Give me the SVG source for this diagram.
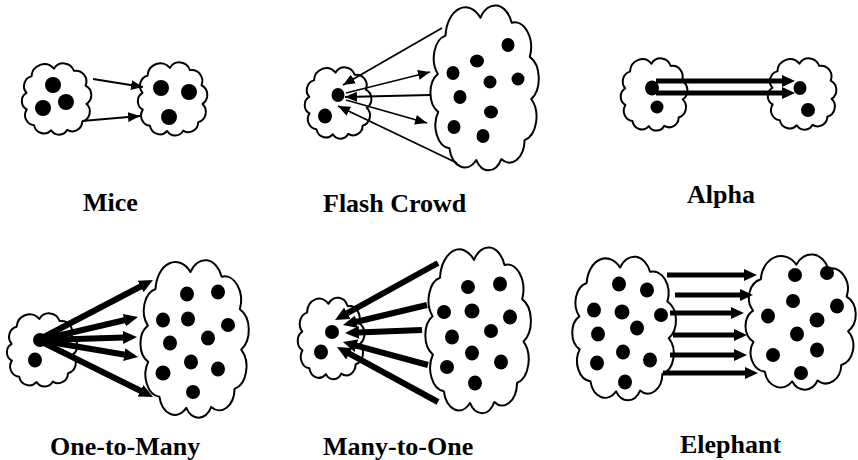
<svg xmlns="http://www.w3.org/2000/svg" xmlns:xlink="http://www.w3.org/1999/xlink" width="858" height="460" viewBox="0 0 858 460">
  <style>
    .cloud { fill: #fff; stroke: #000; stroke-width: 2; stroke-linejoin: round; }
    .dot { fill: #000; }
    .thin { stroke: #000; stroke-width: 1.8; fill: none; marker-end: url(#headThin); }
    .thick { stroke: #000; stroke-width: 6; fill: none; marker-end: url(#headThick); }
    .mid { stroke: #000; stroke-width: 5; fill: none; marker-end: url(#headMid); }
    .label { font-family: "Liberation Serif", "Times New Roman", serif; font-weight: bold; font-size: 26px; fill: #000; }
  </style>
  <defs>
    <!-- unit cloud in a 100x100 box (boxy outline with scalloped rim), scaled per node -->
    <path id="cloudShape" class="cloud" vector-effect="non-scaling-stroke" d="M46.5,10.01 A15,15 0 0 1 73.24,12.81 A14,14 0 0 1 88.73,31.94 A13.5,13.5 0 0 1 89.96,55.62 A13.5,13.5 0 0 1 84.26,78.75 A13,13 0 0 1 64.33,89.37 A12.5,12.5 0 0 1 42.96,89.93 A13.5,13.5 0 0 1 20,83.32 A13,13 0 0 1 10.44,62.85 A12,12 0 0 1 10.13,41.53 A13,13 0 0 1 16.68,20 A17,17 0 0 1 46.5,10.01 Z"/>
    <marker id="headThin" markerUnits="userSpaceOnUse" viewBox="0 0 12 10" markerWidth="12" markerHeight="10" refX="12" refY="5" orient="auto">
      <path d="M0,0 L12,5 L0,10 Z" fill="#000"/>
    </marker>
    <marker id="headThick" markerUnits="userSpaceOnUse" viewBox="0 0 14 14" markerWidth="14" markerHeight="14" refX="1" refY="7" orient="auto">
      <path d="M0,0.5 L14,7 L0,13.5 Z" fill="#000"/>
    </marker>
    <marker id="headMid" markerUnits="userSpaceOnUse" viewBox="0 0 13 13" markerWidth="13" markerHeight="13" refX="1" refY="6.5" orient="auto">
      <path d="M0,0.5 L13,6.5 L0,12.5 Z" fill="#000"/>
    </marker>
  </defs>

  <!-- Mice -->
  <g id="mice">
    <g id="mice-src">
      <use xlink:href="#cloudShape" transform="translate(19,61) scale(0.75,0.77)"/>
      <ellipse class="dot" cx="53" cy="85" rx="8" ry="8"/>
      <ellipse class="dot" cx="66" cy="102" rx="8" ry="8"/>
      <ellipse class="dot" cx="43" cy="108" rx="8" ry="8"/>
    </g>
    <g id="mice-dst">
      <use xlink:href="#cloudShape" transform="translate(135,60) scale(0.75,0.79)"/>
      <ellipse class="dot" cx="161" cy="88" rx="8" ry="8"/>
      <ellipse class="dot" cx="189" cy="92" rx="8" ry="8"/>
      <ellipse class="dot" cx="169" cy="117" rx="8" ry="8"/>
    </g>
    <g id="mice-links">
      <line class="thin" x1="93" y1="79" x2="143" y2="87"/>
      <line class="thin" x1="82" y1="121" x2="140" y2="116"/>
    </g>
    <text class="label" x="83" y="211">Mice</text>
  </g>

  <!-- Flash Crowd -->
  <g id="flash-crowd">
    <g id="flash-src">
      <use xlink:href="#cloudShape" transform="translate(302,65) scale(0.72,0.77)"/>
      <ellipse class="dot" cx="338" cy="95" rx="6.5" ry="7"/>
      <ellipse class="dot" cx="325" cy="116" rx="7" ry="7.5"/>
    </g>
    <g id="flash-crowd-cloud">
      <use xlink:href="#cloudShape" transform="translate(426,0) scale(1.17,1.78)"/>
      <ellipse class="dot" cx="508" cy="45" rx="6.5" ry="7"/>
      <ellipse class="dot" cx="477" cy="61" rx="7" ry="6.5"/>
      <ellipse class="dot" cx="453" cy="73" rx="6.5" ry="7"/>
      <ellipse class="dot" cx="490" cy="82" rx="6.5" ry="6.5"/>
      <ellipse class="dot" cx="518" cy="79" rx="6.5" ry="6.5"/>
      <ellipse class="dot" cx="460" cy="97" rx="6.5" ry="7"/>
      <ellipse class="dot" cx="491" cy="112" rx="7" ry="6.5"/>
      <ellipse class="dot" cx="454" cy="127" rx="6.5" ry="7"/>
      <ellipse class="dot" cx="483" cy="136" rx="6.5" ry="7"/>
    </g>
    <g id="flash-links">
      <line class="thin" x1="442" y1="28" x2="343" y2="85"/>
      <line class="thin" x1="346" y1="93" x2="430" y2="72"/>
      <line class="thin" x1="430" y1="95" x2="345" y2="97"/>
      <line class="thin" x1="346" y1="100" x2="427" y2="123"/>
      <line class="thin" x1="457" y1="163" x2="338" y2="106"/>
    </g>
    <text class="label" x="323" y="212">Flash Crowd</text>
  </g>

  <!-- Alpha -->
  <g id="alpha">
    <g id="alpha-src">
      <use xlink:href="#cloudShape" transform="translate(618,56) scale(0.72,0.78)"/>
      <ellipse class="dot" cx="652" cy="88" rx="7" ry="7.5"/>
      <ellipse class="dot" cx="657" cy="107" rx="6.5" ry="6.5"/>
    </g>
    <g id="alpha-dst">
      <use xlink:href="#cloudShape" transform="translate(765,56) scale(0.74,0.77)"/>
      <ellipse class="dot" cx="800" cy="88" rx="6.5" ry="7"/>
      <ellipse class="dot" cx="808" cy="110" rx="7" ry="7"/>
    </g>
    <g id="alpha-links">
      <line class="mid" x1="656" y1="81" x2="783" y2="81"/>
      <line class="mid" x1="656" y1="93" x2="783" y2="93"/>
    </g>
    <text class="label" x="687" y="203">Alpha</text>
  </g>

  <!-- One-to-Many -->
  <g id="one-to-many">
    <g id="otm-src">
      <use xlink:href="#cloudShape" transform="translate(4,311) scale(0.76,0.79)"/>
      <ellipse class="dot" cx="40" cy="340" rx="7" ry="7"/>
      <ellipse class="dot" cx="35" cy="360" rx="7" ry="7.5"/>
    </g>
    <g id="otm-dst">
      <use xlink:href="#cloudShape" transform="translate(136,255) scale(1.17,1.7)"/>
      <ellipse class="dot" cx="187" cy="294" rx="7" ry="7.5"/>
      <ellipse class="dot" cx="218" cy="292" rx="7" ry="7.5"/>
      <ellipse class="dot" cx="163" cy="320" rx="7" ry="7.5"/>
      <ellipse class="dot" cx="188" cy="319" rx="7" ry="7.5"/>
      <ellipse class="dot" cx="228" cy="325" rx="7" ry="7"/>
      <ellipse class="dot" cx="170" cy="343" rx="7" ry="7.5"/>
      <ellipse class="dot" cx="208" cy="338" rx="7" ry="7.5"/>
      <ellipse class="dot" cx="191" cy="362" rx="7" ry="7.5"/>
      <ellipse class="dot" cx="163" cy="373" rx="7.5" ry="7.5"/>
      <ellipse class="dot" cx="218" cy="369" rx="7" ry="7.5"/>
      <ellipse class="dot" cx="193" cy="392" rx="7" ry="7"/>
    </g>
    <g id="otm-links">
      <line class="thick" x1="42" y1="338" x2="141.5" y2="286"/>
      <line class="thick" x1="44" y1="339" x2="125.3" y2="320"/>
      <line class="thick" x1="44" y1="340" x2="124" y2="337.4"/>
      <line class="thick" x1="44" y1="341" x2="125.2" y2="354.8"/>
      <line class="thick" x1="42" y1="342" x2="141.4" y2="391.2"/>
    </g>
    <text class="label" x="50" y="455">One-to-Many</text>
  </g>

  <!-- Many-to-One -->
  <g id="many-to-one">
    <g id="mto-dst">
      <use xlink:href="#cloudShape" transform="translate(295,295) scale(0.72,0.88)"/>
      <ellipse class="dot" cx="332" cy="332" rx="7" ry="7"/>
      <ellipse class="dot" cx="321" cy="352" rx="7" ry="7.5"/>
    </g>
    <g id="mto-src">
      <use xlink:href="#cloudShape" transform="translate(421,242) scale(1.14,1.79)"/>
      <ellipse class="dot" cx="468" cy="287" rx="7" ry="7"/>
      <ellipse class="dot" cx="500" cy="284" rx="7" ry="7.5"/>
      <ellipse class="dot" cx="444" cy="312" rx="7" ry="7"/>
      <ellipse class="dot" cx="472" cy="311" rx="7.5" ry="7.5"/>
      <ellipse class="dot" cx="510" cy="317" rx="7" ry="7.5"/>
      <ellipse class="dot" cx="491" cy="331" rx="7" ry="7"/>
      <ellipse class="dot" cx="452" cy="337" rx="7" ry="7.5"/>
      <ellipse class="dot" cx="472" cy="353" rx="7" ry="7.5"/>
      <ellipse class="dot" cx="501" cy="362" rx="7" ry="7.5"/>
      <ellipse class="dot" cx="447" cy="367" rx="7" ry="7"/>
      <ellipse class="dot" cx="475" cy="383" rx="7" ry="7.5"/>
    </g>
    <g id="mto-links">
      <line class="thick" x1="438" y1="263" x2="346.4" y2="313.7"/>
      <line class="thick" x1="427" y1="305" x2="355.6" y2="322"/>
      <line class="thick" x1="422" y1="330" x2="358" y2="332.5"/>
      <line class="thick" x1="428" y1="365" x2="355.5" y2="345.4"/>
      <line class="thick" x1="438" y1="402" x2="348.4" y2="353.2"/>
    </g>
    <text class="label" x="323" y="455">Many-to-One</text>
  </g>

  <!-- Elephant -->
  <g id="elephant">
    <g id="ele-src">
      <use xlink:href="#cloudShape" transform="translate(568,252) scale(1.12,1.55)"/>
      <ellipse class="dot" cx="619" cy="284" rx="7" ry="7.5"/>
      <ellipse class="dot" cx="647" cy="290" rx="7" ry="7.5"/>
      <ellipse class="dot" cx="594" cy="310" rx="7" ry="7.5"/>
      <ellipse class="dot" cx="622" cy="312" rx="7.5" ry="7.5"/>
      <ellipse class="dot" cx="661" cy="315" rx="7" ry="7"/>
      <ellipse class="dot" cx="637" cy="328" rx="7" ry="7.5"/>
      <ellipse class="dot" cx="598" cy="334" rx="7" ry="7.5"/>
      <ellipse class="dot" cx="623" cy="352" rx="7" ry="7.5"/>
      <ellipse class="dot" cx="650" cy="360" rx="7" ry="7.5"/>
      <ellipse class="dot" cx="597" cy="363" rx="7" ry="7.5"/>
      <ellipse class="dot" cx="625" cy="382" rx="7" ry="7.5"/>
    </g>
    <g id="ele-dst">
      <use xlink:href="#cloudShape" transform="translate(741,250) scale(1.19,1.46)"/>
      <ellipse class="dot" cx="795" cy="275" rx="7" ry="7"/>
      <ellipse class="dot" cx="827" cy="273" rx="7" ry="7"/>
      <ellipse class="dot" cx="793" cy="301" rx="7" ry="7"/>
      <ellipse class="dot" cx="837" cy="306" rx="7" ry="7.5"/>
      <ellipse class="dot" cx="768" cy="316" rx="7" ry="7.5"/>
      <ellipse class="dot" cx="817" cy="320" rx="7.5" ry="7.5"/>
      <ellipse class="dot" cx="797" cy="334" rx="7" ry="7.5"/>
      <ellipse class="dot" cx="817" cy="350" rx="7" ry="7.5"/>
      <ellipse class="dot" cx="773" cy="355" rx="7" ry="7"/>
      <ellipse class="dot" cx="801" cy="373" rx="7" ry="7"/>
    </g>
    <g id="ele-links">
      <line class="mid" x1="667" y1="275" x2="745" y2="275"/>
      <line class="mid" x1="675" y1="295" x2="741" y2="295"/>
      <line class="mid" x1="670" y1="313" x2="732" y2="313"/>
      <line class="mid" x1="673" y1="335" x2="735" y2="335"/>
      <line class="mid" x1="670" y1="355" x2="735" y2="355"/>
      <line class="mid" x1="663" y1="373" x2="746" y2="373"/>
    </g>
    <text class="label" x="680" y="453">Elephant</text>
  </g>
</svg>
